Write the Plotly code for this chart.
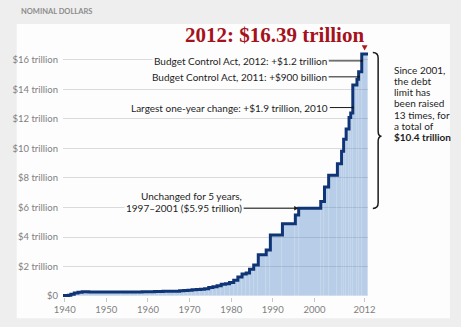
import plotly.graph_objects as go

# Debt limit steps (x position on the chart's year axis, limit in $ trillions)
step_years = [1939.6, 1940.3, 1940.9, 1941.5, 1942.3, 1943.2, 1944.2, 1945.8,
              1953.6, 1955.6, 1957.6, 1958.6, 1960.6, 1961.6, 1962.6, 1963.6,
              1964.6, 1966.6, 1967.6, 1968.6, 1969.6, 1970.6, 1971.6, 1972.6,
              1973.6, 1974.6, 1975.6, 1976.6, 1977.6, 1978.6, 1979.6, 1980.6,
              1981.6, 1982.6, 1983.6, 1984.4, 1985.4, 1986.5, 1988.4, 1989.4,
              1992.3, 1995.4, 1996.2, 2001.5, 2002.4, 2003.4, 2005.5, 2006.5,
              2007.0, 2007.6, 2008.3, 2008.7, 2009.2, 2010.2, 2010.6, 2011.35,
              2012.85]
step_limits = [0.045, 0.049, 0.065, 0.125, 0.210, 0.260, 0.300, 0.275,
               0.281, 0.278, 0.280, 0.295, 0.298, 0.308, 0.309, 0.324,
               0.328, 0.336, 0.358, 0.377, 0.395, 0.430, 0.450, 0.465,
               0.495, 0.577, 0.636, 0.700, 0.798, 0.830, 0.925, 1.079,
               1.290, 1.490, 1.573, 1.824, 2.111, 2.800, 3.123, 4.145,
               4.900, 5.500, 5.950, 6.400, 7.384, 8.184, 8.965, 9.815,
               10.615, 11.315, 12.104, 12.394, 14.294, 14.694, 15.194, 16.394,
               16.394]

x_tick_vals = [1940, 1950, 1960, 1970, 1980, 1990, 2000, 2012]
x_tick_text = ["1940", "1950", "1960", "1970", "1980", "1990", "2000", "2012"]
y_tick_vals = [0, 2, 4, 6, 8, 10, 12, 14, 16]
y_tick_text = ["$0", "$2 trillion", "$4 trillion", "$6 trillion", "$8 trillion",
               "$10 trillion", "$12 trillion", "$14 trillion", "$16 trillion"]

right_note = ["Since 2001,", "the debt", "limit has", "been raised",
              "13 times, for", "a total of", "<b>$10.4 trillion</b>"]

# layout geometry (pixels)
W_PX, H_PX = 461, 327
L, R, T, B = 52, 368, 51, 305


def px(x):
    return (x - L) / (R - L)


def py(y):
    return (B - y) / (B - T)


def P(x, y):
    return f"{px(x):.5f},{py(y):.5f}"


FONT = "Lato"
TXT = "#1e1e1e"
GREY = "#808080"

fig = go.Figure()

# bars give the shaded column fill
widths = [step_years[i + 1] - step_years[i] for i in range(len(step_years) - 1)]
mids = [step_years[i] + widths[i] / 2 for i in range(len(widths))]
fig.add_trace(go.Bar(
    x=mids, y=step_limits[:-1], width=widths,
    marker=dict(color="rgba(70,128,198,0.38)",
                line=dict(color="rgba(255,255,255,0.22)", width=0.6)),
    hoverinfo="skip", showlegend=False,
))
fig.add_trace(go.Scatter(
    x=step_years, y=step_limits, mode="lines", line_shape="hv",
    line=dict(color="#0f3577", width=3), hoverinfo="skip", showlegend=False,
))

fig.update_layout(
    width=W_PX, height=H_PX,
    margin=dict(l=L, r=W_PX - R, t=T, b=H_PX - B),
    paper_bgcolor="#eeeeee", plot_bgcolor="#fdfdfd",
    bargap=0, showlegend=False,
    font=dict(family=FONT, color=TXT),
    xaxis=dict(range=[1939.6, 2012.85], tickvals=x_tick_vals, ticktext=x_tick_text,
               showgrid=False, zeroline=False, ticks="outside", ticklen=4,
               tickcolor="#c8c8c8", tickfont=dict(size=9.5, color=GREY, family=FONT)),
    yaxis=dict(range=[-0.06, 16.6], tickvals=y_tick_vals, ticktext=y_tick_text,
               showgrid=True, gridcolor="#dadada", gridwidth=1, zeroline=False,
               ticks="", ticklabelstandoff=4,
               tickfont=dict(size=9.5, color=GREY, family=FONT)),
)

shapes = []
# white panel
shapes.append(dict(type="rect", xref="paper", yref="paper", layer="below",
                   x0=px(4), x1=px(453), y0=py(327), y1=py(23),
                   fillcolor="#fdfdfd", line=dict(width=0)))

# curly brace
xl, xs, xt = 373, 378.5, 382
top, bot, mid = 52.5, 213.5, 139
path = (f"M{P(xl, top)} Q{P(xs, top)} {P(xs, top + 5.5)} L{P(xs, mid - 5.5)} "
        f"Q{P(xs, mid)} {P(xt, mid)} Q{P(xs, mid)} {P(xs, mid + 5.5)} "
        f"L{P(xs, bot - 5.5)} Q{P(xs, bot)} {P(xl, bot)}")
shapes.append(dict(type="path", xref="paper", yref="paper", path=path,
                   line=dict(color="#1a1a1a", width=1.5)))
# small red pointer triangle above the 2012 value
shapes.append(dict(type="path", xref="paper", yref="paper",
                   path=f"M{P(361.5, 45)} L{P(367.5, 45)} L{P(364.5, 50.5)} Z",
                   fillcolor="#b01820", line=dict(width=0)))
fig.update_layout(shapes=shapes)

ann = []
ann.append(dict(xref="paper", yref="paper", x=px(6), y=py(10), xanchor="left",
                yanchor="middle", showarrow=False, text="<b>NOMINAL DOLLARS</b>",
                font=dict(size=7.5, color="#8c8c8c", family=FONT)))
ann.append(dict(xref="paper", yref="paper", x=px(271), y=py(34), xanchor="center",
                yanchor="middle", showarrow=False, text="<b>2012: $16.39 trillion</b>",
                font=dict(size=21, color="#a5121c", family="Liberation Serif")))

arrow_notes = [
    ("Budget Control Act, 2012: +$1.2 trillion", 2011.35, 15.93, -33, 6),
    ("Budget Control Act, 2011: +$900 billion", 2010.6, 14.85, -30, 6),
    ("Largest one-year change: +$1.9 trillion, 2010", 2009.2, 12.77, -23, 6),
    ("1997–2001 ($5.95 trillion)", 1996.2, 5.95, -55, 2),
]
for text, xv, yv, axp, head in arrow_notes:
    ann.append(dict(xref="x", yref="y", x=xv, y=yv, ax=axp, ay=0,
                    xanchor="right", yanchor="middle", text=text,
                    showarrow=True, arrowhead=head,
                    arrowsize=0.6 if head == 6 else 0.9, arrowwidth=1,
                    arrowcolor="#1a1a1a", bgcolor="#fdfdfd", borderpad=1,
                    font=dict(size=10, color=TXT, family=FONT)))
ann.append(dict(xref="paper", yref="paper", x=px(240), y=py(201), xanchor="right",
                yanchor="middle", showarrow=False, text="Unchanged for 5 years,",
                bgcolor="#fdfdfd", font=dict(size=10, color=TXT, family=FONT)))

for i, line in enumerate(right_note):
    ann.append(dict(xref="paper", yref="paper", x=px(393), y=py(71 + 11.4 * i),
                    xanchor="left", yanchor="middle", showarrow=False, text=line,
                    font=dict(size=10, color=TXT, family=FONT)))

fig.update_layout(annotations=ann)
fig.write_html("out.html")
